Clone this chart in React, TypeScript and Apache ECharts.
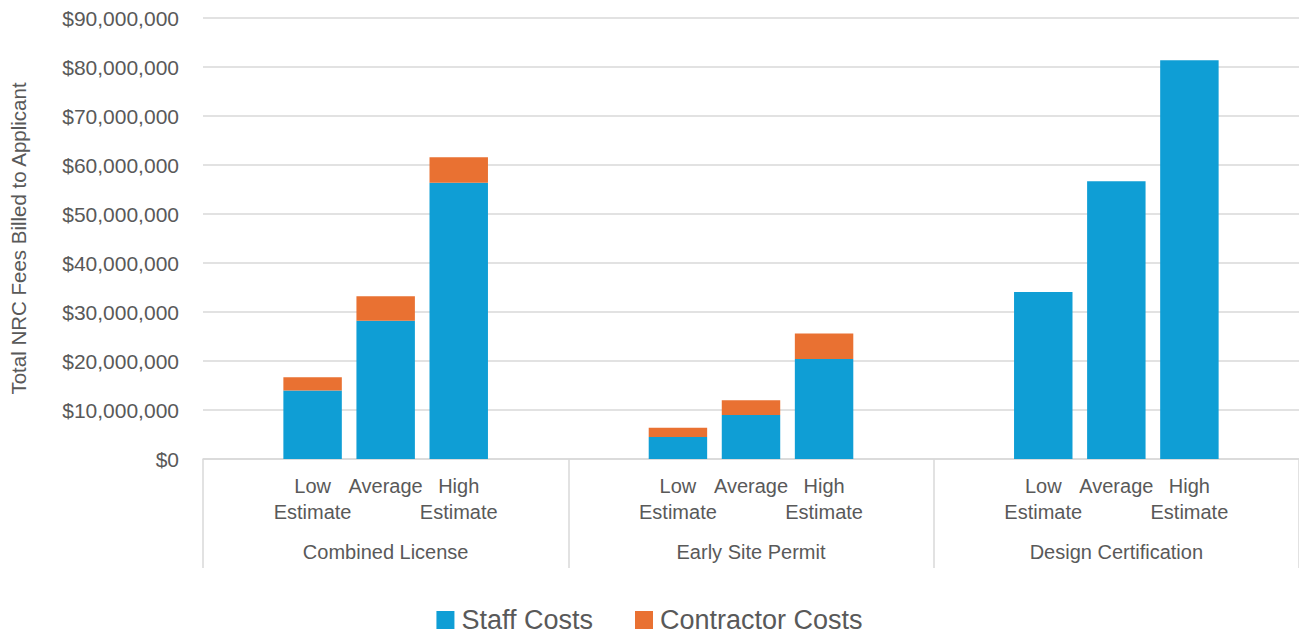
import React, { useEffect, useRef } from "react";
import * as echarts from "echarts";

const groups = ["Combined License", "Early Site Permit", "Design Certification"];
const estimateLabels = ["", "Low\nEstimate", "Average", "High\nEstimate", ""];
const staffCosts = [
  null, 14.0, 28.2, 56.4, null,
  null, 4.5, 9.0, 20.4, null,
  null, 34.1, 56.7, 81.4, null,
];
const contractorCosts = [
  null, 2.7, 5.0, 5.2, null,
  null, 1.9, 3.0, 5.2, null,
  null, 0, 0, 0, null,
];
const yTicks = { min: 0, max: 90000000, interval: 10000000 };

const FONT = "'Liberation Sans', Arial, sans-serif";
const TEXT = "#595959";

export default function App() {
  const ref = useRef<HTMLDivElement>(null);
  useEffect(() => {
    document.body.style.margin = "0";
    const chart = echarts.init(ref.current!, null, { renderer: "svg" });
    const categories: string[] = [];
    groups.forEach(() => estimateLabels.forEach((l) => categories.push(l)));
    const toDollars = (a: (number | null)[]) => a.map((v) => (v == null ? null : v * 1000000));
    chart.setOption({
      animation: false,
      textStyle: { fontFamily: FONT, color: TEXT },
      grid: { left: 202, top: 18, width: 1101, height: 441 },
      legend: {
        top: 606,
        left: "center",
        itemWidth: 18,
        itemHeight: 18,
        itemGap: 42,
        icon: "rect",
        padding: 0,
        textStyle: { fontSize: 27, lineHeight: 28, color: TEXT, fontFamily: FONT, padding: [0, 0, 0, 2] },
        data: ["Staff Costs", "Contractor Costs"],
      },
      xAxis: [
        {
          type: "category",
          data: categories,
          position: "bottom",
          axisLine: { show: true, lineStyle: { color: "#d9d9d9", width: 1.5 } },
          axisTick: { show: false },
          axisLabel: {
            interval: 0,
            fontSize: 20,
            color: TEXT,
            lineHeight: 26,
            margin: 14,
            fontFamily: FONT,
          },
        },
        {
          type: "category",
          data: groups,
          position: "bottom",
          offset: 0,
          axisLine: { show: false },
          axisTick: { show: true, length: 109, interval: 0, lineStyle: { color: "#d9d9d9", width: 1.5 } },
          axisLabel: { interval: 0, fontSize: 20, color: TEXT, margin: 83, fontFamily: FONT },
        },
      ],
      yAxis: {
        type: "value",
        min: yTicks.min,
        max: yTicks.max,
        interval: yTicks.interval,
        name: "Total NRC Fees Billed to Applicant",
        nameLocation: "middle",
        nameGap: 174,
        nameTextStyle: { fontSize: 20.5, color: TEXT, fontFamily: FONT },
        axisLine: { show: false },
        axisTick: { show: false },
        splitLine: { lineStyle: { color: "#d9d9d9", width: 1.5 } },
        axisLabel: {
          fontSize: 21,
          color: TEXT,
          margin: 24,
          fontFamily: FONT,
          formatter: (v: number) => "$" + v.toLocaleString("en-US"),
        },
      },
      series: [
        {
          name: "Staff Costs",
          type: "bar",
          stack: "total",
          xAxisIndex: 0,
          barCategoryGap: "20%",
          itemStyle: { color: "#0F9ED5" },
          data: toDollars(staffCosts),
        },
        {
          name: "Contractor Costs",
          type: "bar",
          stack: "total",
          xAxisIndex: 0,
          barCategoryGap: "20%",
          itemStyle: { color: "#E97132" },
          data: toDollars(contractorCosts),
        },
      ],
    });
    return () => chart.dispose();
  }, []);
  return <div ref={ref} style={{ width: 1299, height: 634 }} />;
}
